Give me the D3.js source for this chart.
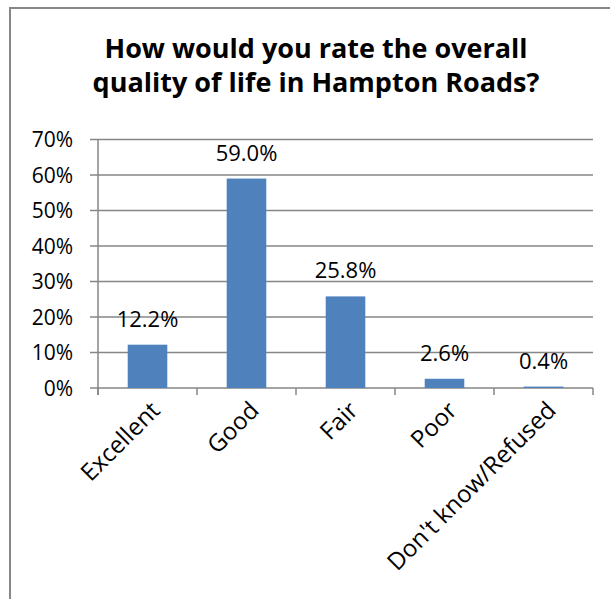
<!DOCTYPE html>
<meta charset="utf-8">
<style>
body { margin: 0; background: #fff; }
svg { display: block; }
.grid line, .axis line { stroke: #868686; stroke-width: 1.5px; }
text { font-family: "Open Sans", sans-serif; fill: #000; }
</style>
<svg width="610" height="599"></svg>
<script src="https://d3js.org/d3.v7.min.js"></script>
<script>

// data
var categories = ["Excellent", "Good", "Fair", "Poor", "Don't know/Refused"];
var values = [12.2, 59.0, 25.8, 2.6, 0.4];
var yTicks = [0, 10, 20, 30, 40, 50, 60, 70];
var titleLines = ["How would you rate the overall", "quality of life in Hampton Roads?"];

var svg = d3.select("svg");

// chart frame (runs off the right/bottom of the picture)
svg.append("rect")
    .attr("x", 10).attr("y", 8)
    .attr("width", 700).attr("height", 700)
    .attr("fill", "none")
    .attr("stroke", "#878787")
    .attr("stroke-width", 2);

// title
svg.append("g").selectAll("text")
    .data(titleLines)
    .enter().append("text")
    .attr("x", 316)
    .attr("y", function(d, i) { return 58 + i * 34; })
    .attr("text-anchor", "middle")
    .style("font-weight", "bold")
    .style("font-size", "27px")
    .text(function(d) { return d; });

var plotLeft = 98, plotRight = 593, plotTop = 139.5, plotBottom = 388;

var x = d3.scaleBand()
    .domain(categories)
    .range([plotLeft, plotRight])
    .paddingInner(0.6)
    .paddingOuter(0.3);

var y = d3.scaleLinear()
    .domain([0, 70])
    .range([plotBottom, plotTop]);

// horizontal gridlines + y ticks
var grid = svg.append("g").attr("class", "grid");
grid.selectAll("line")
    .data(yTicks)
    .enter().append("line")
    .attr("x1", plotLeft - 8).attr("x2", plotRight)
    .attr("y1", function(d) { return y(d); })
    .attr("y2", function(d) { return y(d); });

svg.append("g").selectAll("text")
    .data(yTicks)
    .enter().append("text")
    .attr("x", 73)
    .attr("y", function(d) { return y(d); })
    .attr("dy", "0.36em")
    .attr("text-anchor", "end")
    .style("font-size", "21px")
    .text(function(d) { return d + "%"; });

// axis lines
var axis = svg.append("g").attr("class", "axis");
axis.append("line")
    .attr("x1", plotLeft).attr("x2", plotLeft)
    .attr("y1", plotTop).attr("y2", plotBottom + 7);

var step = x.step();
var boundaries = d3.range(categories.length + 1).map(function(i) { return plotLeft + i * step; });
axis.selectAll("line.tick")
    .data(boundaries)
    .enter().append("line")
    .attr("class", "tick")
    .attr("x1", function(d) { return d; })
    .attr("x2", function(d) { return d; })
    .attr("y1", plotBottom).attr("y2", plotBottom + 7);

// bars
svg.append("g").selectAll("rect")
    .data(values)
    .enter().append("rect")
    .attr("x", function(d, i) { return x(categories[i]); })
    .attr("width", x.bandwidth())
    .attr("y", function(d) { return y(d); })
    .attr("height", function(d) { return plotBottom - y(d); })
    .attr("fill", "#4F81BD");

// value labels
svg.append("g").selectAll("text")
    .data(values)
    .enter().append("text")
    .attr("x", function(d, i) { return x(categories[i]) + x.bandwidth() / 2; })
    .attr("y", function(d) { return y(d) - 18; })
    .attr("text-anchor", "middle")
    .style("font-size", "22px")
    .text(function(d) { return d.toFixed(1) + "%"; });

// rotated category labels
svg.append("g").selectAll("text")
    .data(categories)
    .enter().append("text")
    .attr("text-anchor", "end")
    .attr("transform", function(d) {
        return "translate(" + (x(d) + x.bandwidth() / 2 + 2) + "," + (plotBottom + 12) + ") rotate(-45)";
    })
    .attr("dy", "0.7em")
    .style("font-size", "24px")
    .text(function(d) { return d; });

</script>
